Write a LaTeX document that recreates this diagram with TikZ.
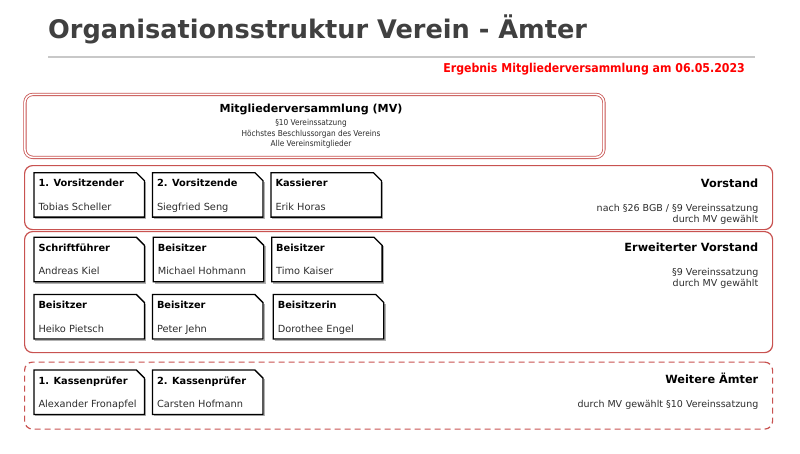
\documentclass[tikz,border=0pt]{standalone}
\usepackage{fontspec}
\setmainfont{DejaVu Sans}
\newfontfamily\condfont{DejaVuSansCondensed-Bold.ttf}
\newfontfamily\condreg{DejaVuSansCondensed.ttf}
\usetikzlibrary{calc}
\definecolor{boxred}{RGB}{200,82,80}
\definecolor{titlegray}{RGB}{64,64,64}
\definecolor{rulegray}{RGB}{200,200,200}
\definecolor{txtgray}{RGB}{45,45,45}
\definecolor{subred}{RGB}{255,0,0}
\tikzset{
  grp/.style={draw=boxred, line width=1.2pt, rounded corners=8pt, anchor=north west, inner sep=0pt},
  cardbox/.style={anchor=north west, inner sep=0pt, minimum width=110pt, minimum height=44pt},
  cardline/.style={draw=black, fill=white, line width=1.3pt, line join=miter},
  cardshadow/.style={draw=black!30, line width=1.2pt},
  cardtitle/.style={anchor=base west, inner sep=0pt, font=\bfseries\fontsize{9.8}{11}\selectfont, text=black},
  cardname/.style={anchor=base west, inner sep=0pt, font=\fontsize{9.8}{11}\selectfont, text=txtgray},
  grphead/.style={anchor=base east, inner sep=0pt, font=\bfseries\fontsize{11.3}{13}\selectfont, text=black},
  grpnote/.style={anchor=base east, inner sep=0pt, font=\fontsize{9.5}{11}\selectfont, text=txtgray},
  mvnote/.style={anchor=base, inner sep=0pt, font=\condreg\fontsize{8.2}{9.5}\selectfont, text=txtgray},
}
\newcommand\card[5]{%
  \node[cardbox] (#1) at (#2,#3) {};
  \draw[cardshadow] ([shift={(1.3pt,-1.3pt)}]#1.south west) -- ([shift={(1.3pt,-1.3pt)}]#1.south east)
     -- ([shift={(1.3pt,-9pt)}]#1.north east);
  \draw[cardline] (#1.north west) -- ([xshift=-8pt]#1.north east) -- ([yshift=-8pt]#1.north east)
     -- (#1.south east) -- (#1.south west) -- cycle;
  \node[cardtitle] (#1-t) at ([shift={(4.3pt,-14pt)}]#1.north west) {#4};
  \node[cardname] (#1-n) at ([shift={(4.3pt,-37.5pt)}]#1.north west) {#5};
}
\begin{document}
\begin{tikzpicture}[x=1pt,y=-1pt]
\useasboundingbox[fill=white] (0,0) rectangle (800,453);

% title
\node[anchor=base west, inner sep=0pt, font=\bfseries\fontsize{25.6}{30}\selectfont, text=titlegray] (title) at (48,38.5) {Organisationsstruktur Verein - Ämter};
\coordinate (r1) at (48,57);
\coordinate (r2) at (755,57);
\draw[rulegray, line width=1.6pt] (r1) -- (r2);
\node[anchor=base east, inner sep=0pt, font=\condfont\fontsize{12.2}{14}\selectfont, text=subred] (sub) at (745,72) {Ergebnis Mitgliederversammlung am 06.05.2023};

% MV box
\node[draw=boxred, double=white, double distance=1.6pt, line width=0.8pt, rounded corners=8pt, anchor=north west, inner sep=0pt, minimum width=579pt, minimum height=63pt] (mv) at (24.5,94) {};
\node[anchor=base, inner sep=0pt, font=\bfseries\fontsize{11.1}{13}\selectfont] (mvt) at (311,112.7) {Mitgliederversammlung (MV)};
\node[mvnote] (mvl1) at (311,125.3) {§10 Vereinssatzung};
\node[mvnote] (mvl2) at (311,136) {Höchstes Beschlussorgan des Vereins};
\node[mvnote] (mvl3) at (311,146.5) {Alle Vereinsmitglieder};

% group boxes
\node[grp, minimum width=748pt, minimum height=64pt] (vor) at (24,165) {};
\node[grp, minimum width=748pt, minimum height=121pt] (erw) at (24,231) {};
\node[grp, dashed, dash pattern=on 6pt off 4pt, minimum width=748pt, minimum height=67pt] (wei) at (24,361.5) {};

% Vorstand
\card{v1}{34}{172.7}{1. Vorsitzender}{Tobias Scheller}
\card{v2}{152.5}{172.7}{2. Vorsitzende}{Siegfried Seng}
\card{v3}{271}{172.7}{Kassierer}{Erik Horas}
\node[grphead] (vorh) at (758.5,187.3) {Vorstand};
\node[grpnote] (vorn1) at (758.5,211.3) {nach §26 BGB / §9 Vereinssatzung};
\node[grpnote] (vorn2) at (758.5,222.5) {durch MV gewählt};

% Erweiterter Vorstand
\card{e1}{34}{237.3}{Schriftführer}{Andreas Kiel}
\card{e2}{153.3}{237.3}{Beisitzer}{Michael Hohmann}
\card{e3}{271.7}{237.3}{Beisitzer}{Timo Kaiser}
\card{e4}{34}{294.5}{Beisitzer}{Heiko Pietsch}
\card{e5}{152.5}{294.5}{Beisitzer}{Peter Jehn}
\card{e6}{273.3}{294.5}{Beisitzerin}{Dorothee Engel}
\node[grphead] (erwh) at (758.5,251.3) {Erweiterter Vorstand};
\node[grpnote] (erwn1) at (758.5,275.3) {§9 Vereinssatzung};
\node[grpnote] (erwn2) at (758.5,286.5) {durch MV gewählt};

% Weitere Ämter
\card{w1}{34}{370}{1. Kassenprüfer}{Alexander Fronapfel}
\card{w2}{152.5}{370}{2. Kassenprüfer}{Carsten Hofmann}
\node[grphead] (weih) at (758.5,383.5) {Weitere Ämter};
\node[grpnote] (wein) at (758.5,407.5) {durch MV gewählt §10 Vereinssatzung};
\end{tikzpicture}
\end{document}
